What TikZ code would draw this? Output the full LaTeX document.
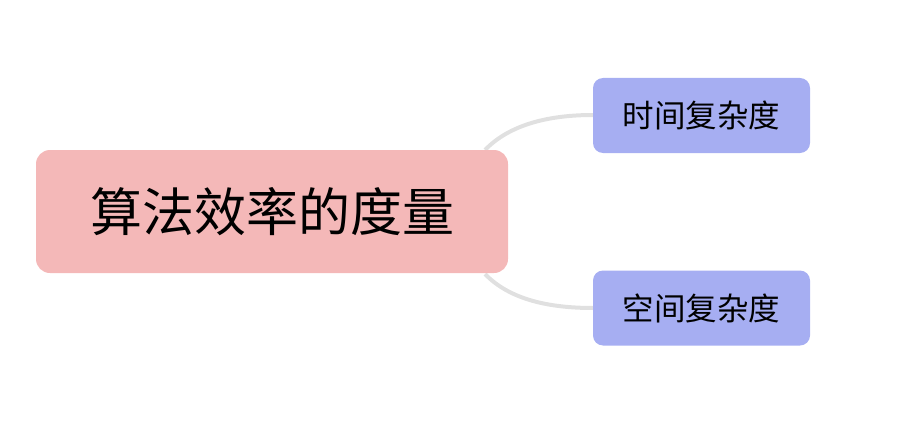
\documentclass[tikz,border=0pt]{standalone}
\usepackage{fontspec}
\newfontfamily\cjk{Noto Sans CJK SC}
\definecolor{mainc}{HTML}{F4B8B8}
\definecolor{subc}{HTML}{A6AEF2}
\definecolor{linec}{HTML}{E0E0E0}
\begin{document}
\begin{tikzpicture}[x=1pt,y=1pt,
  mainbox/.style={fill=mainc,rounded corners=14pt,minimum width=472pt,minimum height=123pt,font=\cjk\fontsize{52}{56}\selectfont,inner sep=0},
  subbox/.style={fill=subc,rounded corners=10pt,minimum width=217pt,minimum height=75pt,font=\cjk\fontsize{31.5}{34}\selectfont,inner sep=0},
  conn/.style={draw=linec,line width=4pt}]
\useasboundingbox (0,0) rectangle (910,424);
\coordinate (s1) at (485,274);
\coordinate (s2) at (485,150);
\draw[conn] (s1) .. controls (510,300) and (550,309) .. (593,309);
\draw[conn] (s2) .. controls (510,124) and (550,116) .. (593,116);
\node[mainbox] (m) at (272,212.5) {算法效率的度量};
\node[subbox] (a) at (701.5,308.5) {时间复杂度};
\node[subbox] (b) at (701.5,116) {空间复杂度};
\end{tikzpicture}
\end{document}
